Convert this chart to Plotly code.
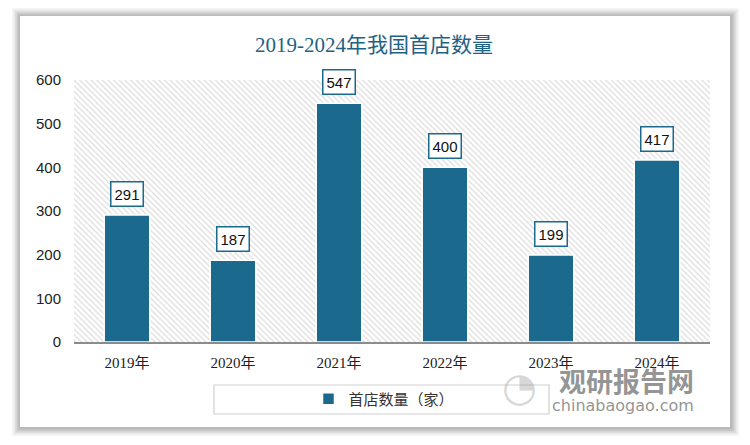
import plotly.graph_objects as go

categories = ["2019年", "2020年", "2021年", "2022年", "2023年", "2024年"]
values = [291, 187, 547, 400, 199, 417]
series_name = "首店数量（家）"
title_text = "2019-2024年我国首店数量"
y_ticks = [0, 100, 200, 300, 400, 500, 600]

BAR = "#1B6A8E"
OFF = 8  # page body margin
W, H = 750 - OFF, 445 - OFF
L, R, T, B = 74 - OFF, 40, 80 - OFF, 103
pw, ph = W - L - R, H - T - B


def px(x):  # reference pixel x -> paper
    return (x - OFF - L) / pw


def py(y):  # reference pixel y -> paper
    return (H - B - (y - OFF)) / ph


fig = go.Figure()

# hatched plot background (base axes, hidden)
fig.add_trace(go.Scatter(
    x=[0, 1, 1, 0, 0], y=[0, 0, 1, 1, 0], xaxis="x", yaxis="y",
    mode="lines", line=dict(width=0), fill="toself",
    fillcolor="white",
    fillpattern=dict(shape="\\", fgcolor="#b9b9b9", bgcolor="white",
                     size=4, solidity=0.3),
    hoverinfo="skip", showlegend=False,
))

fig.add_trace(go.Bar(
    x=categories, y=values, name=series_name, xaxis="x2", yaxis="y2",
    marker=dict(color=BAR, line=dict(color="white", width=1.5)),
    width=0.43,
))

annotations = []
for c, v in zip(categories, values):
    annotations.append(dict(
        x=c, y=v, xref="x2", yref="y2", text=str(v), showarrow=False,
        yanchor="bottom", yshift=8,
        font=dict(family="Liberation Sans, Arial", size=15, color="#111"),
        bgcolor="white", bordercolor=BAR, borderwidth=1.5, borderpad=3,
    ))

# watermark
annotations.append(dict(
    x=px(626), y=py(380), xref="paper", yref="paper", text="<b>观研报告网</b>",
    xanchor="center", yanchor="middle",
    showarrow=False, font=dict(family="Noto Sans CJK SC", size=27, color="rgba(120,120,120,0.8)"),
))
annotations.append(dict(
    x=px(623), y=py(405), xref="paper", yref="paper", text="chinabaogao.com",
    xanchor="center", yanchor="middle",
    showarrow=False, font=dict(family="DejaVu Sans", size=16, color="rgba(120,120,120,0.8)"),
))
annotations.append(dict(
    x=px(519), y=py(387), xref="paper", yref="paper", text="◔",
    xanchor="center", yanchor="middle",
    showarrow=False, font=dict(family="DejaVu Sans", size=40, color="rgba(150,150,150,0.4)"),
))

shapes = []
# card shadow
for i, a in enumerate([0.04, 0.05, 0.06, 0.07, 0.08]):
    d = 8 - i * 1.6
    shapes.append(dict(
        type="rect", xref="paper", yref="paper", layer="below",
        x0=px(20 - d), x1=px(731 + d), y0=py(428 + d), y1=py(16 - d),
        fillcolor=f"rgba(0,0,0,{a})", line=dict(width=0),
    ))
shapes.append(dict(
    type="rect", xref="paper", yref="paper", layer="below",
    x0=px(20), x1=px(730), y0=py(427), y1=py(16),
    fillcolor="white", line=dict(width=0),
))
# legend box
shapes.append(dict(
    type="rect", xref="paper", yref="paper", layer="above",
    x0=px(214), x1=px(549), y0=py(414), y1=py(385),
    fillcolor="rgba(0,0,0,0)", line=dict(color="#cfcfcf", width=1.2),
))

fig.update_layout(
    width=W, height=H,
    margin=dict(l=L, r=R, t=T, b=B),
    paper_bgcolor="white", plot_bgcolor="rgba(0,0,0,0)",
    title=dict(
        text=title_text, x=px(374), xref="paper", xanchor="center",
        y=1 - (45 - OFF) / H, yref="container", yanchor="middle",
        font=dict(family="Liberation Serif, Noto Sans CJK SC", size=21, color="#1F6284"),
    ),
    xaxis=dict(range=[0, 1], visible=False, fixedrange=True),
    yaxis=dict(range=[0, 1], visible=False, fixedrange=True),
    xaxis2=dict(
        overlaying="x", side="bottom", type="category",
        range=[-0.5, 5.5], showgrid=False, showline=True,
        linecolor="#8c8c8c", linewidth=1.5, ticks="", ticklabelstandoff=6,
        tickfont=dict(family="Liberation Serif, Noto Sans CJK SC", size=15, color="#222"),
    ),
    yaxis2=dict(
        overlaying="y", side="left", range=[0, 600], tickvals=y_ticks,
        showgrid=False, zeroline=False, showline=False, ticks="",
        ticklabelstandoff=12,
        tickfont=dict(family="Liberation Sans, Arial", size=15, color="#222"),
    ),
    showlegend=True,
    legend=dict(
        x=px(384), y=py(399), xanchor="center", yanchor="middle",
        orientation="h", bgcolor="rgba(0,0,0,0)",
        font=dict(family="Noto Sans CJK SC", size=15, color="#333"),
        itemwidth=30,
    ),
    annotations=annotations, shapes=shapes,
    bargap=0.57,
)

fig.write_html("out.html")
